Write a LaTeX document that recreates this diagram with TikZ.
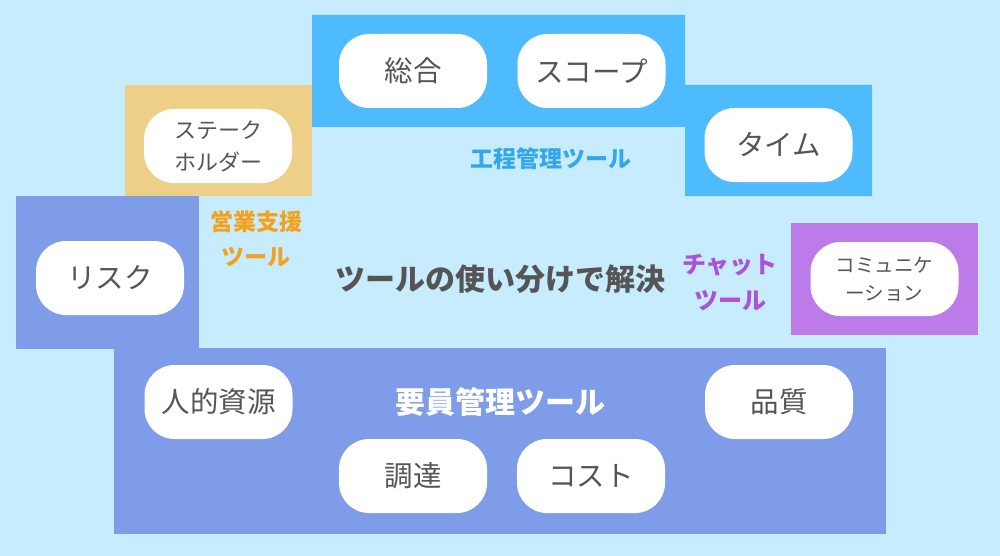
\documentclass[tikz,border=0pt]{standalone}
\usepackage{fontspec}
\usepackage{xcolor}
\setmainfont{Noto Sans CJK JP}
\definecolor{paleskyblue}{RGB}{198,236,253}
\definecolor{processblue}{RGB}{77,187,253}
\definecolor{salessand}{RGB}{237,207,135}
\definecolor{staffperiwinkle}{RGB}{127,156,232}
\definecolor{chatlavender}{RGB}{188,123,233}
\definecolor{processtext}{RGB}{52,166,236}
\definecolor{salestext}{RGB}{242,162,30}
\definecolor{chattext}{RGB}{172,82,218}
\definecolor{pilltext}{RGB}{85,85,85}

\begin{document}
\begin{tikzpicture}[x=1pt, y=-1pt,
        whitepillnode/.style={shape=rectangle, rounded corners=30pt, fill=white, minimum width=148pt, minimum height=74pt, inner sep=0pt, text=pilltext, align=center, font=\fontsize{28.5}{32}\selectfont},
        smallpillnode/.style={whitepillnode, font=\fontsize{22}{32}\selectfont},
        tinypillnode/.style={whitepillnode, font=\fontsize{19.5}{28}\selectfont},
        toollabelnode/.style={align=center, inner sep=0pt, font=\bfseries\fontsize{23}{35}\selectfont}]
        \useasboundingbox (0, 0) rectangle (1000, 556);
        \fill[paleskyblue] (0, 0) rectangle (1000, 556);
        % Tool areas
        \fill[processblue] (312, 15) -- (685, 15) -- (685, 85) -- (872, 85) -- (872, 196) -- (685, 196) -- (685, 127) -- (312, 127) -- cycle;
        \fill[salessand] (125, 85) rectangle (312, 196);
        \fill[staffperiwinkle] (16, 196) rectangle (199, 349);
        \fill[staffperiwinkle] (114, 348) rectangle (886, 534);
        \fill[chatlavender] (791, 223) rectangle (978, 335);
        % Knowledge areas
        \node[whitepillnode] (integration) at (413, 71) {総合};
        \node[whitepillnode] (scope) at (591.5, 71) {スコープ};
        \node[whitepillnode] (time) at (778.5, 145) {タイム};
        \node[smallpillnode] (stakeholder) at (218, 146) {ステーク\\ホルダー};
        \node[whitepillnode] (risk) at (110, 278) {リスク};
        \node[tinypillnode] (communication) at (884.5, 279) {コミュニケ\\ーション};
        \node[whitepillnode] (resource) at (218.5, 402) {人的資源};
        \node[whitepillnode] (quality) at (779, 402) {品質};
        \node[whitepillnode] (procurement) at (413, 476) {調達};
        \node[whitepillnode] (cost) at (591, 476) {コスト};
        % Tool labels
        \node[toollabelnode, text=processtext] (processtool) at (551, 159) {工程管理ツール};
        \node[toollabelnode, text=salestext] (salestool) at (256, 239) {営業支援\\ツール};
        \node[toollabelnode, text=chattext, font=\bfseries\fontsize{24}{36}\selectfont] (chattool) at (730, 283) {チャット\\ツール};
        \node[toollabelnode, text=white, font=\bfseries\fontsize{30}{35}\selectfont] (stafftool) at (500, 402) {要員管理ツール};
        \node[toollabelnode, text=pilltext, font=\bfseries\fontsize{30}{35}\selectfont] (solution) at (500, 279) {ツールの使い分けで解決};
\end{tikzpicture}
\end{document}
